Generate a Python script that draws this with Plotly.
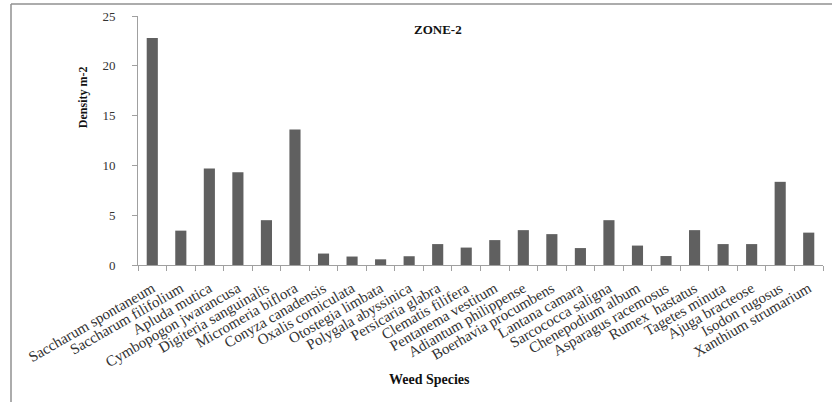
import plotly.graph_objects as go

species = [
    "Saccharum spontaneum", "Saccharum filifolium", "Apluda mutica",
    "Cymbopogon jwarancusa", "Digiteria sanguinalis", "Micromeria biflora",
    "Conyza canadensis", "Oxalis corniculata", "Otostegia limbata",
    "Polygala abyssinica", "Persicaria glabra", "Clematis filifera",
    "Pentanema vestitum", "Adiantum philippense", "Boerhavia procumbens",
    "Lantana camara", "Sarcococca saligna", "Chenepodium album",
    "Asparagus racemosus", "Rumex  hastatus", "Tagetes minuta",
    "Ajuga bracteose", "Isodon rugosus", "Xanthium strumarium",
]
density = [22.8, 3.45, 9.7, 9.3, 4.5, 13.6, 1.15, 0.85, 0.57, 0.88,
           2.1, 1.75, 2.5, 3.5, 3.1, 1.7, 4.5, 1.95, 0.9, 3.5,
           2.1, 2.1, 8.35, 3.25]
y_ticks = [0, 5, 10, 15, 20, 25]

SERIF = "Liberation Serif, Times New Roman, serif"

fig = go.Figure(go.Bar(
    x=species, y=density,
    marker=dict(color="#606060", line=dict(width=0)),
    width=0.39,
))

fig.update_layout(
    width=832, height=402,
    margin=dict(l=138, r=9, t=16, b=137),
    paper_bgcolor="white", plot_bgcolor="white",
    showlegend=False,
    font=dict(family=SERIF, color="#222222"),
    xaxis=dict(
        type="category", tickangle=-30, automargin=False,
        showline=True, linecolor="#a0a0a0", linewidth=1,
        ticks="outside", tickson="boundaries", ticklen=5, tickcolor="#a0a0a0",
        ticklabelstandoff=8,
        tickfont=dict(family=SERIF, size=15, color="#333333"),
        showgrid=False, zeroline=False,
    ),
    yaxis=dict(
        range=[0, 25], tickvals=y_ticks, automargin=False,
        showline=True, linecolor="#a0a0a0", linewidth=1,
        ticks="outside", ticklen=5, tickcolor="#a0a0a0",
        ticklabelstandoff=14,
        tickfont=dict(family=SERIF, size=13, color="#333333"),
        showgrid=False, zeroline=False,
    ),
    annotations=[
        dict(text="<b>ZONE-2</b>", x=0.438, y=0.944, xref="paper", yref="paper",
             xanchor="center", yanchor="middle",
             showarrow=False, font=dict(family=SERIF, size=13, color="#111111")),
        dict(text="<b>Density m-2</b>", x=-0.080, y=0.675, xref="paper", yref="paper",
             xanchor="center", yanchor="middle",
             textangle=-90, showarrow=False,
             font=dict(family=SERIF, size=12, color="#111111")),
        dict(text="<b>Weed Species</b>", x=0.425, y=-0.458, xref="paper", yref="paper",
             xanchor="center", yanchor="middle",
             showarrow=False, font=dict(family=SERIF, size=14, color="#111111")),
    ],
    shapes=[
        dict(type="line", xref="paper", yref="paper", x0=-0.1854, x1=1.05,
             y0=1.048, y1=1.048, line=dict(color="#909090", width=1.5)),
        dict(type="line", xref="paper", yref="paper", x0=-0.1854, x1=-0.1854,
             y0=1.048, y1=-0.6, line=dict(color="#909090", width=1.5)),
    ],
)

fig.write_html("out.html", config={"displayModeBar": False},
               post_script="document.body.style.margin='0';")
